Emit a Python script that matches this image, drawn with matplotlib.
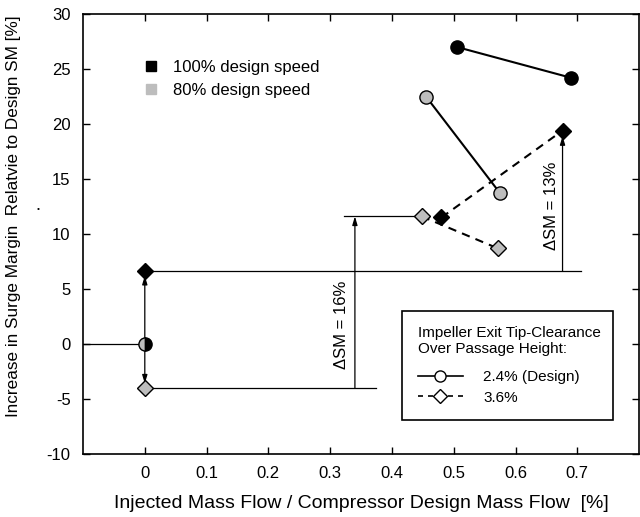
import matplotlib
matplotlib.use("Agg")
import matplotlib.pyplot as plt
from matplotlib.lines import Line2D

plt.rcParams["font.family"] = ["Liberation Sans", "DejaVu Sans"]
plt.rcParams["axes.unicode_minus"] = False

# Surge margin data (x: injected mass flow [%], y: increase in SM [%])
x_circ_100 = [0.0, 0.505, 0.69]
y_circ_100 = [0.0, 27.0, 24.2]
x_circ_80 = [0.0, 0.455, 0.575]
y_circ_80 = [0.0, 22.5, 13.7]
x_diam_100 = [0.0, 0.48, 0.676]
y_diam_100 = [6.6, 11.5, 19.4]
x_diam_80 = [0.0, 0.448, 0.571]
y_diam_80 = [-4.0, 11.6, 8.7]

xticks = [0, 0.1, 0.2, 0.3, 0.4, 0.5, 0.6, 0.7]
xticklabels = ["0", "0.1", "0.2", "0.3", "0.4", "0.5", "0.6", "0.7"]
yticks = [-10, -5, 0, 5, 10, 15, 20, 25, 30]

gray = "#bdbdbd"

fig = plt.figure(figsize=(6.4, 5.17), dpi=100)
ax = fig.add_axes([0.1297, 0.1219, 0.869, 0.851])

# reference lines and delta-SM arrows
ax.plot([-0.1, 0.0], [0.0, 0.0], color="k", lw=0.9)
ax.plot([0.0, 0.706], [y_diam_100[0], y_diam_100[0]], color="k", lw=0.9)
ax.plot([0.0, 0.374], [y_diam_80[0], y_diam_80[0]], color="k", lw=0.9)
ax.plot([0.323, x_diam_80[1]], [y_diam_80[1], y_diam_80[1]], color="k", lw=0.9)

arrow = dict(arrowstyle="-|>,head_length=0.5,head_width=0.15", color="k",
             lw=0.9, shrinkA=0, shrinkB=0)
ax.annotate("", xy=(0.0, y_diam_100[0] - 0.4), xytext=(0.0, 0.0),
            arrowprops=arrow)
ax.annotate("", xy=(0.0, y_diam_80[0] + 0.4), xytext=(0.0, 0.0),
            arrowprops=arrow)
ax.annotate("", xy=(0.34, y_diam_80[1]), xytext=(0.34, y_diam_80[0]),
            arrowprops=arrow)
ax.annotate("", xy=(x_diam_100[2], y_diam_100[2] - 0.5),
            xytext=(x_diam_100[2], y_diam_100[0]), arrowprops=arrow)
ax.text(0.318, 1.7, "\u0394SM = 16%", rotation=90, fontsize=12,
        ha="center", va="center")
ax.text(0.658, 12.6, "\u0394SM = 13%", rotation=90, fontsize=12,
        ha="center", va="center")

# data series
ax.plot(x_circ_100[1:], y_circ_100[1:], "-o", color="k", lw=1.5,
        ms=9.5, mfc="k", mec="k", zorder=3)
ax.plot(x_circ_80[1:], y_circ_80[1:], "-o", color="k", lw=1.5,
        ms=9.5, mfc=gray, mec="k", mew=1.0, zorder=3)
ax.plot(x_diam_100[1:], y_diam_100[1:], "--D", color="k", lw=1.5,
        dashes=(4, 3), ms=8, mfc="k", mec="k", zorder=3)
ax.plot(x_diam_80[1:], y_diam_80[1:], "--D", color="k", lw=1.5,
        dashes=(4, 3), ms=8, mfc=gray, mec="k", mew=1.0, zorder=3)
ax.plot(x_diam_100[0], y_diam_100[0], "D", ms=8, mfc="k", mec="k",
        zorder=4)
ax.plot(x_diam_80[0], y_diam_80[0], "D", ms=8, mfc=gray, mec="k",
        mew=1.0, zorder=4)
# both speeds share the origin: half gray, half black
ax.plot(x_circ_100[0], y_circ_100[0], "o", ms=9.5, fillstyle="left",
        mfc=gray, mfcalt="k", mec="k", mew=1.0, zorder=4)

ax.set_xlim(-0.1, 0.8)
ax.set_ylim(-10, 30)
ax.set_xticks(xticks)
ax.set_xticklabels(xticklabels)
ax.set_yticks(yticks)
ax.tick_params(direction="in", length=5, width=1, top=True, right=True,
               labelsize=12, pad=9)
for s in ax.spines.values():
    s.set_linewidth(1.2)

ax.set_xlabel("Injected Mass Flow / Compressor Design Mass Flow  [%]",
              fontsize=14, labelpad=10)
ax.set_ylabel("Increase in Surge Margin  Relatvie to Design SM [%]",
              fontsize=12.3)
ax.yaxis.set_label_coords(-0.112, 0.54)
fig.text(38 / 640, 1 - 210 / 517, "\u2022", fontsize=6, ha="center",
         va="center")

# speed legend
speed_handles = [
    Line2D([], [], ls="none", marker="s", ms=7, mfc="k", mec="k"),
    Line2D([], [], ls="none", marker="s", ms=7, mfc=gray, mec=gray),
]
leg1 = ax.legend(speed_handles, ["100% design speed", "80% design speed"],
                 loc="upper left", bbox_to_anchor=(0.093, 0.915),
                 frameon=False, fontsize=12, handlelength=1.0,
                 handletextpad=0.8, labelspacing=0.5, borderpad=0)
ax.add_artist(leg1)

# tip-clearance legend
tc_handles = [
    Line2D([], [], color="k", ls="-", lw=1.2, marker="o", ms=8,
           mfc="white", mec="k"),
    Line2D([], [], color="k", ls="--", lw=1.2, dashes=(3, 3), marker="D",
           ms=7, mfc="white", mec="k"),
]
leg2 = ax.legend(tc_handles, ["2.4% (Design)", "3.6%"],
                 title="Impeller Exit Tip-Clearance\nOver Passage Height:",
                 loc="lower left", bbox_to_anchor=(0.574, 0.077, 0.379, 0.246),
                 mode="expand", borderaxespad=0, fontsize=11,
                 title_fontsize=11, fancybox=False, edgecolor="k",
                 framealpha=1, handlelength=3.0, handletextpad=1.3,
                 alignment="left", borderpad=1.0, labelspacing=0.45)
leg2.get_frame().set_linewidth(1.2)
leg2._legend_box.sep = 10

fig.savefig("out.png", dpi=100)
